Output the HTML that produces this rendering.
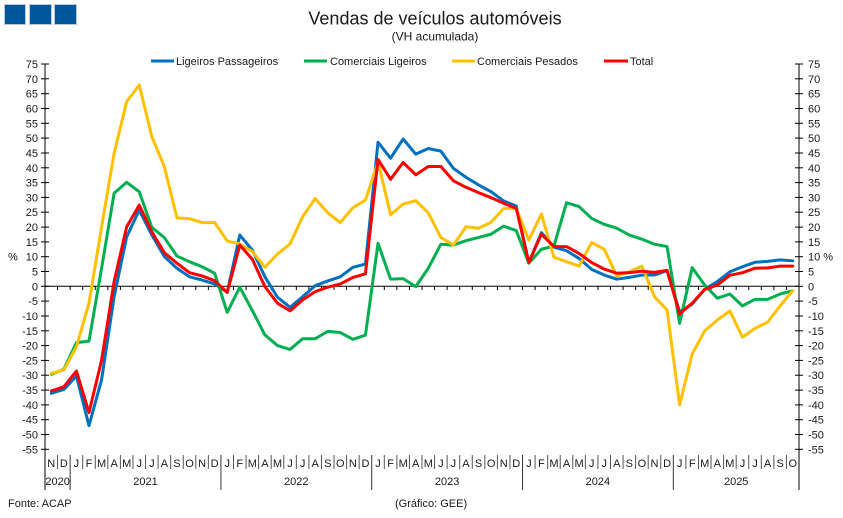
<!DOCTYPE html>
<html>
<head>
<meta charset="utf-8">
<style>
  html,body{margin:0;padding:0;background:#fff;}
  svg{display:block;}
  text{font-family:"Liberation Sans",Arial,sans-serif;fill:#1a1a1a;}
</style>
</head>
<body>
<svg width="843" height="518" viewBox="0 0 843 518" xmlns="http://www.w3.org/2000/svg">
  <rect x="0" y="0" width="843" height="518" fill="#fff"/>
  <!-- logo -->
  <rect x="4.5" y="4.5" width="21" height="20" fill="#00569a" stroke="#b8c8d8" stroke-width="1"/>
  <rect x="29.5" y="4.5" width="22" height="20" fill="#00569a" stroke="#b8c8d8" stroke-width="1"/>
  <rect x="54.5" y="4.5" width="22" height="20" fill="#00569a" stroke="#b8c8d8" stroke-width="1"/>

  <!-- titles -->
  <text x="435" y="24.5" font-size="18" text-anchor="middle">Vendas de veículos automóveis</text>
  <text x="435" y="40.5" font-size="12" text-anchor="middle">(VH acumulada)</text>

  <!-- legend -->
  <g font-size="11">
    <line x1="151" y1="61" x2="174" y2="61" stroke="#0070C0" stroke-width="3"/>
    <text x="176" y="65">Ligeiros Passageiros</text>
    <line x1="304" y1="61" x2="327" y2="61" stroke="#00B050" stroke-width="3"/>
    <text x="330" y="65">Comerciais Ligeiros</text>
    <line x1="452" y1="61" x2="475" y2="61" stroke="#FFC000" stroke-width="3"/>
    <text x="477" y="65">Comerciais Pesados</text>
    <line x1="604" y1="61" x2="628" y2="61" stroke="#FF0000" stroke-width="3"/>
    <text x="630" y="65">Total</text>
  </g>

  <!-- axes -->
  <line x1="45" y1="64" x2="45" y2="490" stroke="#000" stroke-width="1"/>
  <line x1="799" y1="64" x2="799" y2="490" stroke="#000" stroke-width="1"/>
  <line x1="45" y1="286.3" x2="799" y2="286.3" stroke="#000" stroke-width="1"/>

  <!-- y ticks -->
  <g stroke="#000" stroke-width="1">
    <line x1="41" y1="64" x2="49" y2="64"/><line x1="41" y1="78.8" x2="49" y2="78.8"/><line x1="41" y1="93.7" x2="49" y2="93.7"/><line x1="41" y1="108.5" x2="49" y2="108.5"/><line x1="41" y1="123.3" x2="49" y2="123.3"/><line x1="41" y1="138.1" x2="49" y2="138.1"/><line x1="41" y1="153" x2="49" y2="153"/><line x1="41" y1="167.8" x2="49" y2="167.8"/><line x1="41" y1="182.6" x2="49" y2="182.6"/><line x1="41" y1="197.4" x2="49" y2="197.4"/><line x1="41" y1="212.2" x2="49" y2="212.2"/><line x1="41" y1="227.1" x2="49" y2="227.1"/><line x1="41" y1="241.9" x2="49" y2="241.9"/><line x1="41" y1="256.7" x2="49" y2="256.7"/><line x1="41" y1="271.5" x2="49" y2="271.5"/><line x1="41" y1="286.3" x2="49" y2="286.3"/><line x1="41" y1="301.1" x2="49" y2="301.1"/><line x1="41" y1="316" x2="49" y2="316"/><line x1="41" y1="330.8" x2="49" y2="330.8"/><line x1="41" y1="345.6" x2="49" y2="345.6"/><line x1="41" y1="360.4" x2="49" y2="360.4"/><line x1="41" y1="375.2" x2="49" y2="375.2"/><line x1="41" y1="390.1" x2="49" y2="390.1"/><line x1="41" y1="404.9" x2="49" y2="404.9"/><line x1="41" y1="419.7" x2="49" y2="419.7"/><line x1="41" y1="434.5" x2="49" y2="434.5"/><line x1="41" y1="449.3" x2="49" y2="449.3"/>
    <line x1="795" y1="64" x2="803" y2="64"/><line x1="795" y1="78.8" x2="803" y2="78.8"/><line x1="795" y1="93.7" x2="803" y2="93.7"/><line x1="795" y1="108.5" x2="803" y2="108.5"/><line x1="795" y1="123.3" x2="803" y2="123.3"/><line x1="795" y1="138.1" x2="803" y2="138.1"/><line x1="795" y1="153" x2="803" y2="153"/><line x1="795" y1="167.8" x2="803" y2="167.8"/><line x1="795" y1="182.6" x2="803" y2="182.6"/><line x1="795" y1="197.4" x2="803" y2="197.4"/><line x1="795" y1="212.2" x2="803" y2="212.2"/><line x1="795" y1="227.1" x2="803" y2="227.1"/><line x1="795" y1="241.9" x2="803" y2="241.9"/><line x1="795" y1="256.7" x2="803" y2="256.7"/><line x1="795" y1="271.5" x2="803" y2="271.5"/><line x1="795" y1="286.3" x2="803" y2="286.3"/><line x1="795" y1="301.1" x2="803" y2="301.1"/><line x1="795" y1="316" x2="803" y2="316"/><line x1="795" y1="330.8" x2="803" y2="330.8"/><line x1="795" y1="345.6" x2="803" y2="345.6"/><line x1="795" y1="360.4" x2="803" y2="360.4"/><line x1="795" y1="375.2" x2="803" y2="375.2"/><line x1="795" y1="390.1" x2="803" y2="390.1"/><line x1="795" y1="404.9" x2="803" y2="404.9"/><line x1="795" y1="419.7" x2="803" y2="419.7"/><line x1="795" y1="434.5" x2="803" y2="434.5"/><line x1="795" y1="449.3" x2="803" y2="449.3"/>
  </g>

  <!-- y labels left -->
  <g font-size="11" text-anchor="end">
    <text x="38" y="68">75</text><text x="38" y="82.8">70</text><text x="38" y="97.7">65</text><text x="38" y="112.5">60</text><text x="38" y="127.3">55</text><text x="38" y="142.1">50</text><text x="38" y="157">45</text><text x="38" y="171.8">40</text><text x="38" y="186.6">35</text><text x="38" y="201.4">30</text><text x="38" y="216.2">25</text><text x="38" y="231.1">20</text><text x="38" y="245.9">15</text><text x="38" y="260.7">10</text><text x="38" y="275.5">5</text><text x="38" y="290.3">0</text><text x="38" y="305.1">-5</text><text x="38" y="320">-10</text><text x="38" y="334.8">-15</text><text x="38" y="349.6">-20</text><text x="38" y="364.4">-25</text><text x="38" y="379.2">-30</text><text x="38" y="394.1">-35</text><text x="38" y="408.9">-40</text><text x="38" y="423.7">-45</text><text x="38" y="438.5">-50</text><text x="38" y="453.3">-55</text>
  </g>
  <text x="8" y="260.7" font-size="11">%</text>
  <!-- y labels right -->
  <g font-size="11">
    <text x="808" y="68">75</text><text x="808" y="82.8">70</text><text x="808" y="97.7">65</text><text x="808" y="112.5">60</text><text x="808" y="127.3">55</text><text x="808" y="142.1">50</text><text x="808" y="157">45</text><text x="808" y="171.8">40</text><text x="808" y="186.6">35</text><text x="808" y="201.4">30</text><text x="808" y="216.2">25</text><text x="808" y="231.1">20</text><text x="808" y="245.9">15</text><text x="808" y="260.7">10 %</text><text x="808" y="275.5">5</text><text x="808" y="290.3">0</text><text x="808" y="305.1">-5</text><text x="808" y="320">-10</text><text x="808" y="334.8">-15</text><text x="808" y="349.6">-20</text><text x="808" y="364.4">-25</text><text x="808" y="379.2">-30</text><text x="808" y="394.1">-35</text><text x="808" y="408.9">-40</text><text x="808" y="423.7">-45</text><text x="808" y="438.5">-50</text><text x="808" y="453.3">-55</text>
  </g>

  <!-- zero-line ticks and category dividers -->
  <g stroke="#000" stroke-width="1">
    <line x1="57.57" y1="286" x2="57.57" y2="290"/><line x1="70.13" y1="286" x2="70.13" y2="290"/><line x1="82.7" y1="286" x2="82.7" y2="290"/><line x1="95.27" y1="286" x2="95.27" y2="290"/><line x1="107.83" y1="286" x2="107.83" y2="290"/><line x1="120.4" y1="286" x2="120.4" y2="290"/><line x1="132.97" y1="286" x2="132.97" y2="290"/><line x1="145.53" y1="286" x2="145.53" y2="290"/><line x1="158.1" y1="286" x2="158.1" y2="290"/><line x1="170.67" y1="286" x2="170.67" y2="290"/><line x1="183.23" y1="286" x2="183.23" y2="290"/><line x1="195.8" y1="286" x2="195.8" y2="290"/><line x1="208.37" y1="286" x2="208.37" y2="290"/><line x1="220.93" y1="286" x2="220.93" y2="290"/><line x1="233.5" y1="286" x2="233.5" y2="290"/><line x1="246.07" y1="286" x2="246.07" y2="290"/><line x1="258.63" y1="286" x2="258.63" y2="290"/><line x1="271.2" y1="286" x2="271.2" y2="290"/><line x1="283.77" y1="286" x2="283.77" y2="290"/><line x1="296.33" y1="286" x2="296.33" y2="290"/><line x1="308.9" y1="286" x2="308.9" y2="290"/><line x1="321.47" y1="286" x2="321.47" y2="290"/><line x1="334.03" y1="286" x2="334.03" y2="290"/><line x1="346.6" y1="286" x2="346.6" y2="290"/><line x1="359.17" y1="286" x2="359.17" y2="290"/><line x1="371.73" y1="286" x2="371.73" y2="290"/><line x1="384.3" y1="286" x2="384.3" y2="290"/><line x1="396.87" y1="286" x2="396.87" y2="290"/><line x1="409.43" y1="286" x2="409.43" y2="290"/><line x1="422" y1="286" x2="422" y2="290"/><line x1="434.57" y1="286" x2="434.57" y2="290"/><line x1="447.13" y1="286" x2="447.13" y2="290"/><line x1="459.7" y1="286" x2="459.7" y2="290"/><line x1="472.27" y1="286" x2="472.27" y2="290"/><line x1="484.83" y1="286" x2="484.83" y2="290"/><line x1="497.4" y1="286" x2="497.4" y2="290"/><line x1="509.97" y1="286" x2="509.97" y2="290"/><line x1="522.53" y1="286" x2="522.53" y2="290"/><line x1="535.1" y1="286" x2="535.1" y2="290"/><line x1="547.67" y1="286" x2="547.67" y2="290"/><line x1="560.23" y1="286" x2="560.23" y2="290"/><line x1="572.8" y1="286" x2="572.8" y2="290"/><line x1="585.37" y1="286" x2="585.37" y2="290"/><line x1="597.93" y1="286" x2="597.93" y2="290"/><line x1="610.5" y1="286" x2="610.5" y2="290"/><line x1="623.07" y1="286" x2="623.07" y2="290"/><line x1="635.63" y1="286" x2="635.63" y2="290"/><line x1="648.2" y1="286" x2="648.2" y2="290"/><line x1="660.77" y1="286" x2="660.77" y2="290"/><line x1="673.33" y1="286" x2="673.33" y2="290"/><line x1="685.9" y1="286" x2="685.9" y2="290"/><line x1="698.47" y1="286" x2="698.47" y2="290"/><line x1="711.03" y1="286" x2="711.03" y2="290"/><line x1="723.6" y1="286" x2="723.6" y2="290"/><line x1="736.17" y1="286" x2="736.17" y2="290"/><line x1="748.73" y1="286" x2="748.73" y2="290"/><line x1="761.3" y1="286" x2="761.3" y2="290"/><line x1="773.87" y1="286" x2="773.87" y2="290"/><line x1="786.43" y1="286" x2="786.43" y2="290"/>
  </g>
  <g stroke="#555" stroke-width="1">
    <line x1="57.57" y1="455" x2="57.57" y2="469"/><line x1="82.7" y1="455" x2="82.7" y2="469"/><line x1="95.27" y1="455" x2="95.27" y2="469"/><line x1="107.83" y1="455" x2="107.83" y2="469"/><line x1="120.4" y1="455" x2="120.4" y2="469"/><line x1="132.97" y1="455" x2="132.97" y2="469"/><line x1="145.53" y1="455" x2="145.53" y2="469"/><line x1="158.1" y1="455" x2="158.1" y2="469"/><line x1="170.67" y1="455" x2="170.67" y2="469"/><line x1="183.23" y1="455" x2="183.23" y2="469"/><line x1="195.8" y1="455" x2="195.8" y2="469"/><line x1="208.37" y1="455" x2="208.37" y2="469"/><line x1="233.5" y1="455" x2="233.5" y2="469"/><line x1="246.07" y1="455" x2="246.07" y2="469"/><line x1="258.63" y1="455" x2="258.63" y2="469"/><line x1="271.2" y1="455" x2="271.2" y2="469"/><line x1="283.77" y1="455" x2="283.77" y2="469"/><line x1="296.33" y1="455" x2="296.33" y2="469"/><line x1="308.9" y1="455" x2="308.9" y2="469"/><line x1="321.47" y1="455" x2="321.47" y2="469"/><line x1="334.03" y1="455" x2="334.03" y2="469"/><line x1="346.6" y1="455" x2="346.6" y2="469"/><line x1="359.17" y1="455" x2="359.17" y2="469"/><line x1="384.3" y1="455" x2="384.3" y2="469"/><line x1="396.87" y1="455" x2="396.87" y2="469"/><line x1="409.43" y1="455" x2="409.43" y2="469"/><line x1="422" y1="455" x2="422" y2="469"/><line x1="434.57" y1="455" x2="434.57" y2="469"/><line x1="447.13" y1="455" x2="447.13" y2="469"/><line x1="459.7" y1="455" x2="459.7" y2="469"/><line x1="472.27" y1="455" x2="472.27" y2="469"/><line x1="484.83" y1="455" x2="484.83" y2="469"/><line x1="497.4" y1="455" x2="497.4" y2="469"/><line x1="509.97" y1="455" x2="509.97" y2="469"/><line x1="535.1" y1="455" x2="535.1" y2="469"/><line x1="547.67" y1="455" x2="547.67" y2="469"/><line x1="560.23" y1="455" x2="560.23" y2="469"/><line x1="572.8" y1="455" x2="572.8" y2="469"/><line x1="585.37" y1="455" x2="585.37" y2="469"/><line x1="597.93" y1="455" x2="597.93" y2="469"/><line x1="610.5" y1="455" x2="610.5" y2="469"/><line x1="623.07" y1="455" x2="623.07" y2="469"/><line x1="635.63" y1="455" x2="635.63" y2="469"/><line x1="648.2" y1="455" x2="648.2" y2="469"/><line x1="660.77" y1="455" x2="660.77" y2="469"/><line x1="685.9" y1="455" x2="685.9" y2="469"/><line x1="698.47" y1="455" x2="698.47" y2="469"/><line x1="711.03" y1="455" x2="711.03" y2="469"/><line x1="723.6" y1="455" x2="723.6" y2="469"/><line x1="736.17" y1="455" x2="736.17" y2="469"/><line x1="748.73" y1="455" x2="748.73" y2="469"/><line x1="761.3" y1="455" x2="761.3" y2="469"/><line x1="773.87" y1="455" x2="773.87" y2="469"/><line x1="786.43" y1="455" x2="786.43" y2="469"/>
  </g>
  <g stroke="#333" stroke-width="1">
    <line x1="70.13" y1="455" x2="70.13" y2="490"/><line x1="220.93" y1="455" x2="220.93" y2="490"/><line x1="371.73" y1="455" x2="371.73" y2="490"/><line x1="522.53" y1="455" x2="522.53" y2="490"/><line x1="673.33" y1="455" x2="673.33" y2="490"/>
  </g>

  <!-- category labels -->
  <g font-size="11" text-anchor="middle">
    <text x="51.28" y="467">N</text><text x="63.85" y="467">D</text><text x="76.42" y="467">J</text><text x="88.98" y="467">F</text><text x="101.55" y="467">M</text><text x="114.12" y="467">A</text><text x="126.68" y="467">M</text><text x="139.25" y="467">J</text><text x="151.82" y="467">J</text><text x="164.38" y="467">A</text><text x="176.95" y="467">S</text><text x="189.52" y="467">O</text><text x="202.08" y="467">N</text><text x="214.65" y="467">D</text>
    <text x="227.22" y="467">J</text><text x="239.78" y="467">F</text><text x="252.35" y="467">M</text><text x="264.92" y="467">A</text><text x="277.48" y="467">M</text><text x="290.05" y="467">J</text><text x="302.62" y="467">J</text><text x="315.18" y="467">A</text><text x="327.75" y="467">S</text><text x="340.32" y="467">O</text><text x="352.88" y="467">N</text><text x="365.45" y="467">D</text>
    <text x="378.02" y="467">J</text><text x="390.58" y="467">F</text><text x="403.15" y="467">M</text><text x="415.72" y="467">A</text><text x="428.28" y="467">M</text><text x="440.85" y="467">J</text><text x="453.42" y="467">J</text><text x="465.98" y="467">A</text><text x="478.55" y="467">S</text><text x="491.12" y="467">O</text><text x="503.68" y="467">N</text><text x="516.25" y="467">D</text>
    <text x="528.82" y="467">J</text><text x="541.38" y="467">F</text><text x="553.95" y="467">M</text><text x="566.52" y="467">A</text><text x="579.08" y="467">M</text><text x="591.65" y="467">J</text><text x="604.22" y="467">J</text><text x="616.78" y="467">A</text><text x="629.35" y="467">S</text><text x="641.92" y="467">O</text><text x="654.48" y="467">N</text><text x="667.05" y="467">D</text>
    <text x="679.62" y="467">J</text><text x="692.18" y="467">F</text><text x="704.75" y="467">M</text><text x="717.32" y="467">A</text><text x="729.88" y="467">M</text><text x="742.45" y="467">J</text><text x="755.02" y="467">J</text><text x="767.58" y="467">A</text><text x="780.15" y="467">S</text><text x="792.72" y="467">O</text>
    <text x="57.6" y="485">2020</text><text x="145.5" y="485">2021</text><text x="296.3" y="485">2022</text><text x="447.1" y="485">2023</text><text x="597.9" y="485">2024</text><text x="736.2" y="485">2025</text>
  </g>

  <!-- series: data coords (i, value) -->
  <g transform="translate(51.283,286.3) scale(12.5667,-2.964)" fill="none" stroke-linejoin="round" stroke-linecap="round">
    <polyline vector-effect="non-scaling-stroke" stroke="#0070C0" stroke-width="3" points="0,-36.1 1,-34.8 2,-30.3 3,-47 4,-31.6 5,-3.5 6,16.7 7,25.7 8,17.3 9,10 10,6.1 11,3.2 12,2.1 13,0.8 14,-2 15,17.3 16,12.2 17,3.2 18,-3.7 19,-7.1 20,-3.5 21,0.2 22,1.8 23,3.2 24,6.4 25,7.5 26,48.6 27,43.2 28,49.7 29,44.6 30,46.5 31,45.6 32,39.8 33,36.8 34,34.2 35,31.9 36,28.8 37,27.1 38,8 39,18.1 40,13.2 41,12 42,9.4 43,5.7 44,3.8 45,2.4 46,3 47,3.8 48,3.8 49,5.3 50,-8.6 51,-6 52,-1 53,1.6 54,4.9 55,6.6 56,8.1 57,8.4 58,8.9 59,8.6"/>
    <polyline vector-effect="non-scaling-stroke" stroke="#00B050" stroke-width="3" points="0,-29.7 1,-28 2,-19 3,-18.5 4,6 5,31.4 6,35.1 7,31.9 8,19.9 9,16.4 10,10.2 11,8.3 12,6.6 13,4.4 14,-8.8 15,-0.3 16,-8.2 17,-16.4 18,-20 19,-21.3 20,-17.7 21,-17.7 22,-15.2 23,-15.6 24,-17.9 25,-16.5 26,14.5 27,2.4 28,2.6 29,-0.1 30,6.1 31,14.2 32,13.9 33,15.4 34,16.5 35,17.6 36,20.3 37,18.8 38,7.8 39,12.5 40,13.6 41,28.2 42,26.9 43,22.9 44,20.9 45,19.6 46,17.3 47,15.9 48,14.2 49,13.4 50,-12.5 51,6.3 52,0.4 53,-4 54,-2.6 55,-6.6 56,-4.4 57,-4.4 58,-2.6 59,-1.5"/>
    <polyline vector-effect="non-scaling-stroke" stroke="#FFC000" stroke-width="3" points="0,-29.4 1,-28.2 2,-20.4 3,-5.7 4,20 5,44.9 6,62.3 7,67.9 8,50.5 9,40.3 10,23.1 11,22.8 12,21.5 13,21.5 14,15.3 15,14.3 16,11.7 17,6.4 18,10.9 19,14.3 20,23.5 21,29.6 22,24.8 23,21.5 24,26.5 25,29.1 26,42 27,24.1 28,27.8 29,28.9 30,24.8 31,16.5 32,13.9 33,20.1 34,19.6 35,21.6 36,26.3 37,26.3 38,15.6 39,24.4 40,9.8 41,8.3 42,6.8 43,14.8 44,12.5 45,3.5 46,4.9 47,6.8 48,-3.5 49,-8 50,-40 51,-22.8 52,-15 53,-11.4 54,-8.3 55,-17.2 56,-14.2 57,-12.1 58,-6.6 59,-1.5"/>
    <polyline vector-effect="non-scaling-stroke" stroke="#FF0000" stroke-width="3" points="0,-35.3 1,-33.9 2,-28.6 3,-42.6 4,-25 5,1.6 6,20.1 7,27.4 8,18.4 9,11.3 10,7.8 11,4.6 12,3.5 13,1.9 14,-2.1 15,13.9 16,9.1 17,-0.1 18,-5.7 19,-8.3 20,-4.6 21,-1.8 22,-0.3 23,0.8 24,3 25,4.2 26,42.8 27,36.1 28,41.8 29,37.6 30,40.4 31,40.4 32,35.6 33,33.4 34,31.6 35,29.9 36,28 37,26.3 38,8 39,17.6 40,13.4 41,13.4 42,11.1 43,8 44,5.8 45,4.4 46,4.6 47,5.1 48,4.7 49,5.4 50,-9.3 51,-5.7 52,-1 53,0.4 54,3.7 55,4.6 56,6.1 57,6.2 58,6.8 59,6.8"/>
  </g>

  <!-- footer -->
  <text x="8" y="507" font-size="11">Fonte: ACAP</text>
  <text x="395" y="507" font-size="11">(Gráfico: GEE)</text>
</svg>
</body>
</html>
